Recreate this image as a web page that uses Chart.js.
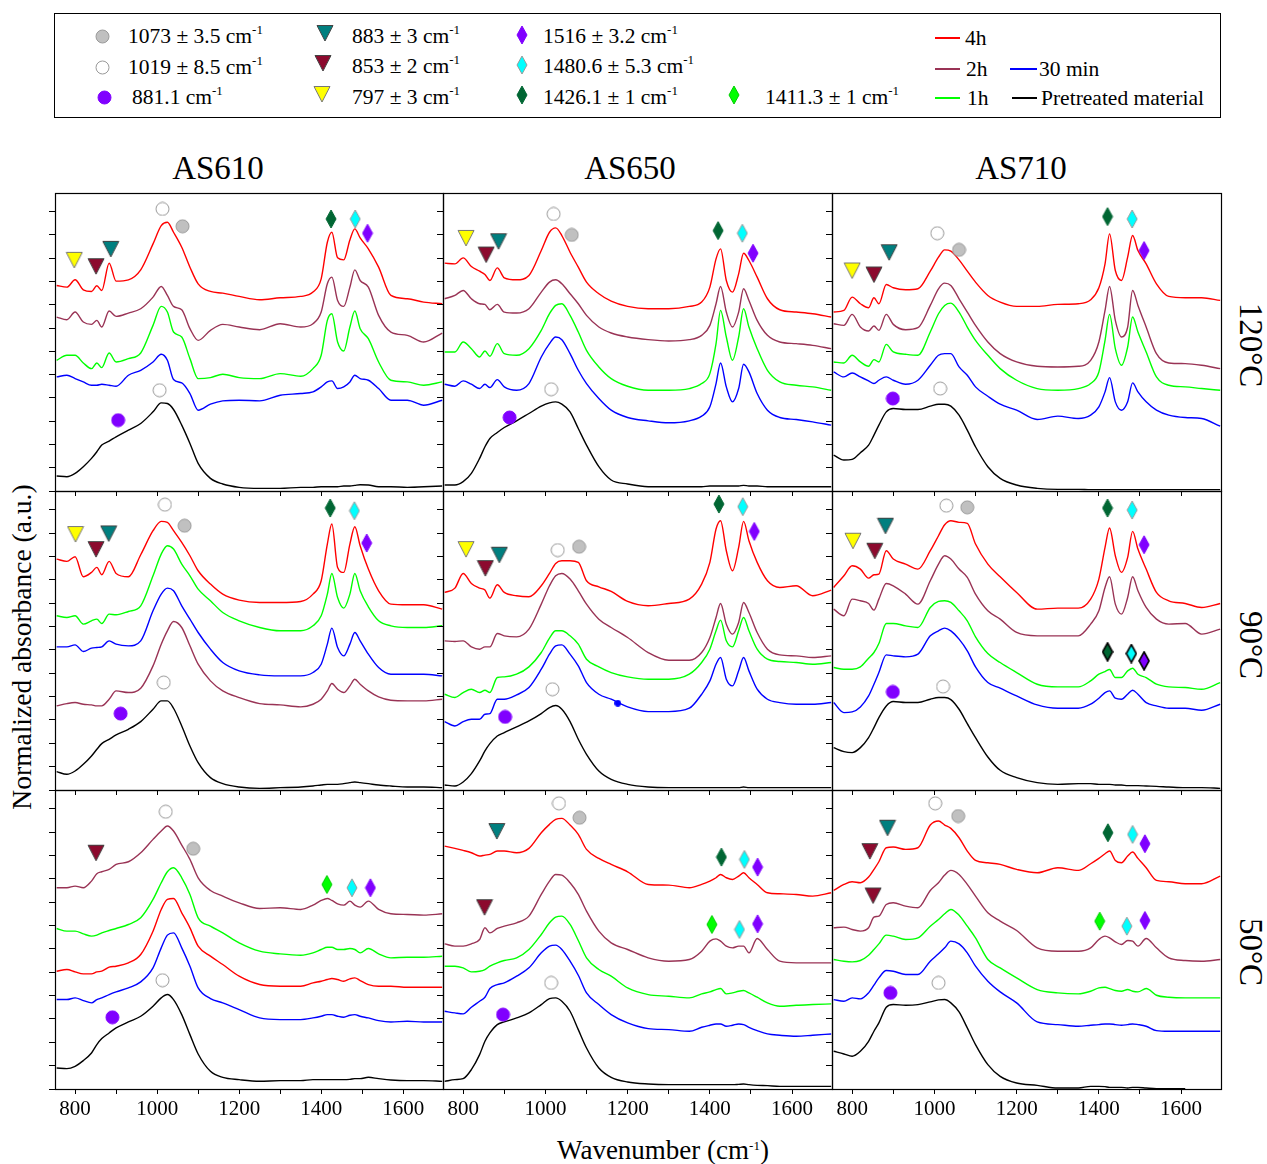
<!DOCTYPE html>
<html>
<head>
<meta charset="utf-8">
<script src="https://cdn.jsdelivr.net/npm/chart.js@4.4.1/dist/chart.umd.min.js"></script>
<style>
  body { margin: 0; background: #fff; }
  #fig { position: relative; width: 1267px; height: 1164px; overflow: hidden;
         font-family: 'Liberation Serif', 'Times New Roman', serif; color: #000; background: #fff; }
  .abs { position: absolute; white-space: nowrap; }
  .lt { font-size: 21.5px; line-height: 24px; }
  sup { font-size: 13px; line-height: 0; vertical-align: 9px; }
  .ttl { font-size: 33px; transform: translate(-50%, -50%); }
  .lline { position: absolute; height: 2px; }
  #legendBox { position: absolute; left: 54px; top: 13px; width: 1167px; height: 105px;
               border: 1px solid #000; box-sizing: border-box; }
  canvas.panel { position: absolute; }
</style>
</head>
<body>
<div id="fig">
  <div id="legendBox"></div>
  <div class="abs lt" style="left:128px;top:24px">1073 ± 3.5 cm<sup>-1</sup></div>
  <div class="abs lt" style="left:128px;top:55px">1019 ± 8.5 cm<sup>-1</sup></div>
  <div class="abs lt" style="left:132px;top:85px">881.1 cm<sup>-1</sup></div>
  <div class="abs lt" style="left:352px;top:24px">883 ± 3 cm<sup>-1</sup></div>
  <div class="abs lt" style="left:352px;top:54px">853 ± 2 cm<sup>-1</sup></div>
  <div class="abs lt" style="left:352px;top:85px">797 ± 3 cm<sup>-1</sup></div>
  <div class="abs lt" style="left:543px;top:24px">1516 ± 3.2 cm<sup>-1</sup></div>
  <div class="abs lt" style="left:543px;top:54px">1480.6 ± 5.3 cm<sup>-1</sup></div>
  <div class="abs lt" style="left:543px;top:85px">1426.1 ± 1 cm<sup>-1</sup></div>
  <div class="abs lt" style="left:765px;top:85px">1411.3 ± 1 cm<sup>-1</sup></div>

  <div class="lline" style="left:935px;top:37px;width:25px;background:#FF0000"></div>
  <div class="abs lt" style="left:965px;top:26px">4h</div>
  <div class="lline" style="left:935px;top:68px;width:25px;background:#993355"></div>
  <div class="abs lt" style="left:966px;top:57px">2h</div>
  <div class="lline" style="left:935px;top:97px;width:25px;background:#00FF00"></div>
  <div class="abs lt" style="left:967px;top:86px">1h</div>
  <div class="lline" style="left:1010px;top:68px;width:27px;background:#0000FF"></div>
  <div class="abs lt" style="left:1039px;top:57px">30 min</div>
  <div class="lline" style="left:1012px;top:97px;width:25px;background:#000000"></div>
  <div class="abs lt" style="left:1041px;top:86px">Pretreated material</div>

  <div class="abs ttl" style="left:218px;top:168px">AS610</div>
  <div class="abs ttl" style="left:630px;top:168px">AS650</div>
  <div class="abs ttl" style="left:1021px;top:168px">AS710</div>

  <div class="abs ttl" style="left:1250px;top:345px;transform:translate(-50%,-50%) rotate(90deg)">120°C</div>
  <div class="abs ttl" style="left:1250px;top:645px;transform:translate(-50%,-50%) rotate(90deg)">90°C</div>
  <div class="abs ttl" style="left:1250px;top:952px;transform:translate(-50%,-50%) rotate(90deg)">50°C</div>

  <div class="abs" style="left:22px;top:647px;font-size:27.5px;transform:translate(-50%,-50%) rotate(-90deg)">Normalized absorbance (a.u.)</div>
  <div class="abs" style="left:663px;top:1150px;font-size:27px;transform:translate(-50%,-50%)">Wavenumber (cm<sup>-1</sup>)</div>
</div>

<script>
// wavenumber grid (cm-1) shared by all spectra
const wavenumber = [755, 780, 800, 820, 840, 853, 865, 883, 900, 930, 960, 990, 1010, 1025, 1040,
  1060, 1080, 1100, 1130, 1160, 1200, 1250, 1300, 1350, 1380, 1400, 1415, 1426, 1440, 1455,
  1470, 1482, 1495, 1515, 1540, 1570, 1610, 1650, 1695];

const xTickValues = [800, 900, 1000, 1100, 1200, 1300, 1400, 1500, 1600];
const yTickValues = [0, 70, 140, 210, 280, 350, 420, 490, 560, 630, 700, 770, 840];

// ---- AS610, 120°C ----
const AS610_120_4h = [618,613,635,605,600,617,603,685,631,635,665,743,798,808,778,733,673,623,600,595,585,575,581,585,598,638,748,778,701,695,755,788,761,728,673,588,578,568,563];
const AS610_120_2h = [523,515,538,508,501,513,493,541,525,535,548,583,615,588,555,545,488,453,483,501,493,485,503,493,503,538,623,643,573,555,613,665,633,613,528,478,468,448,475];
const AS610_120_1h = [393,408,408,385,368,385,371,415,388,398,415,498,555,538,478,463,398,338,341,351,341,338,353,345,368,408,513,533,448,421,493,541,488,458,388,333,328,318,328];
const AS610_120_30m = [343,348,338,328,318,318,321,318,315,348,363,388,411,393,335,325,293,243,261,271,273,271,288,293,298,313,328,331,308,313,328,348,338,333,308,273,273,258,273];
const AS610_120_pre = [45,43,53,73,98,118,138,150,163,183,203,238,265,263,245,198,143,83,38,21,11,8,8,11,11,13,13,13,13,15,15,17,19,18,13,13,11,13,15];

// ---- AS650, 120°C ----
const AS650_120_4h = [685,683,701,675,661,651,633,671,641,635,648,723,778,791,768,718,673,628,593,571,555,548,548,555,568,613,698,728,633,598,653,715,693,643,578,545,538,533,523];
const AS650_120_2h = [578,588,603,578,563,561,545,561,538,535,548,598,628,635,623,593,563,528,493,475,463,455,451,455,468,498,563,615,538,493,538,608,573,513,468,448,443,438,428];
const AS650_120_1h = [418,418,448,428,403,421,405,443,413,408,428,483,533,558,563,528,478,423,373,338,315,303,303,308,323,353,443,543,463,393,463,548,493,428,363,328,318,313,303];
const AS650_120_30m = [321,315,331,321,308,321,311,335,313,303,323,403,443,463,455,413,363,323,278,243,221,211,205,211,225,253,323,385,313,268,308,381,358,293,243,221,215,208,198];
const AS650_120_pre = [18,18,28,53,98,133,158,176,191,211,233,255,265,268,261,238,188,138,73,33,21,13,13,13,13,15,15,15,15,15,15,17,15,15,13,13,13,13,13];

// ---- AS710, 120°C ----
const AS710_120_4h = [538,543,583,563,551,581,563,621,611,605,608,661,703,725,721,695,661,628,588,568,555,555,561,563,575,611,683,773,663,633,703,768,723,683,623,585,581,581,573];
const AS710_120_2h = [503,498,531,493,481,496,483,531,501,485,491,558,608,625,618,578,538,498,448,413,388,375,373,375,393,448,543,615,513,463,493,603,558,493,413,385,383,378,368];
const AS710_120_1h = [388,385,408,388,375,395,388,441,418,411,408,478,533,558,565,538,493,453,408,368,333,308,303,308,323,358,453,531,428,378,433,523,478,418,343,318,313,308,303];
const AS710_120_30m = [358,343,355,343,331,323,333,343,333,321,333,378,408,413,413,373,348,313,285,261,243,215,225,218,228,253,298,341,268,243,268,325,298,268,243,228,221,218,195];
const AS710_120_pre = [108,93,95,115,138,168,198,238,248,245,245,255,261,261,255,228,183,133,73,38,18,8,5,5,4,4,4,4,4,4,4,4,4,4,4,4,4,4,4];

// ---- AS610, 90°C ----
const AS610_90_4h = [692,685,699,639,652,667,645,685,649,639,705,777,805,802,777,742,702,657,617,587,569,562,562,565,587,627,737,797,667,652,737,789,732,662,597,557,555,555,542];
const AS610_90_1h = [522,517,522,497,507,512,499,527,525,535,552,642,707,732,722,677,642,602,567,532,507,487,477,477,492,522,587,649,577,545,587,649,597,549,507,492,487,487,492];
const AS610_90_30m = [429,429,435,415,425,427,429,447,437,432,447,537,587,605,597,552,512,472,422,382,357,345,342,342,352,377,437,485,427,402,437,472,447,407,367,347,347,347,342];
const AS610_90_2h = [252,259,262,257,255,252,252,272,297,292,305,372,437,477,505,487,432,377,327,297,277,259,255,249,257,272,297,319,302,292,312,332,317,297,279,269,267,267,272];
const AS610_90_pre = [55,47,57,77,102,122,139,152,165,182,205,242,267,267,245,192,132,82,37,19,9,5,7,9,12,15,17,17,17,19,22,24,22,19,15,12,9,9,7];

// ---- AS650, 90°C ----
const AS650_90_4h = [592,605,649,619,605,599,575,615,592,582,579,612,649,679,687,687,682,627,609,595,565,552,559,572,617,682,782,807,717,657,727,805,747,682,627,607,612,582,599];
const AS650_90_2h = [447,445,447,429,422,429,429,469,462,459,482,557,612,642,649,632,597,557,512,487,457,412,389,389,412,457,517,559,497,467,502,562,532,472,422,405,402,397,402];
const AS650_90_1h = [287,277,292,302,292,299,292,337,339,347,369,412,455,477,477,462,437,392,369,352,339,332,332,347,382,422,477,509,447,429,477,517,477,422,392,385,382,377,382];
const AS650_90_30m = [205,192,205,212,212,227,229,272,272,285,307,362,407,432,435,407,372,322,287,272,249,235,235,245,287,327,377,397,332,312,357,397,357,302,272,262,257,257,262];
const AS650_90_pre = [15,12,24,49,87,117,139,162,172,189,207,229,247,253,242,205,152,107,57,32,17,9,7,7,7,7,7,7,7,7,7,9,7,7,7,7,7,7,7];

// ---- AS710, 90°C ----
const AS710_90_4h = [607,642,672,662,635,645,647,717,692,677,662,717,762,795,807,802,799,737,677,639,592,542,545,545,572,632,727,785,702,652,697,775,722,662,592,567,559,547,559];
const AS710_90_2h = [542,522,572,567,559,539,572,619,612,587,557,627,677,702,692,662,637,587,537,512,472,462,462,462,497,537,607,639,557,527,577,639,597,547,512,497,499,467,482];
const AS710_90_1h = [367,362,362,369,395,412,439,499,499,492,487,547,565,567,562,537,507,459,409,382,352,317,309,309,327,347,355,361,337,337,357,365,347,337,317,309,307,302,322];
const AS710_90_30m = [262,232,234,249,282,317,352,405,402,399,407,462,477,485,477,452,417,369,322,305,282,255,245,245,257,275,292,297,275,272,287,299,287,262,252,245,245,239,257];
const AS710_90_pre = [127,115,112,127,157,187,217,252,265,262,262,272,277,277,271,242,199,157,99,59,37,22,17,19,19,17,17,17,15,15,13,13,13,12,11,9,7,7,5];

// ---- AS610, 50°C ----
const AS610_50_2h = [603,603,608,603,623,645,651,658,673,681,708,748,773,788,773,731,688,633,595,578,558,541,543,538,551,565,571,565,555,551,563,551,545,563,538,525,523,521,525];
const AS610_50_1h = [481,473,473,465,458,461,468,475,481,493,513,568,618,651,663,633,583,513,488,468,438,413,405,401,408,418,425,425,418,418,421,418,408,421,405,393,395,395,398];
const AS610_50_4h = [353,358,351,345,345,351,353,365,368,378,403,473,538,568,571,528,483,428,398,373,338,313,308,308,318,323,328,331,328,323,330,333,325,313,308,308,305,305,305];
const AS610_50_30m = [268,268,273,265,258,268,273,283,291,303,321,363,423,461,468,423,368,303,271,258,238,213,208,208,213,218,223,223,218,215,221,223,218,213,205,201,203,201,201];
const AS610_50_pre = [63,61,68,85,108,133,151,168,183,201,218,248,273,283,268,223,163,105,53,35,28,23,25,25,28,28,28,28,28,28,29,31,31,35,31,27,25,25,23];

// ---- AS650, 50°C ----
const AS650_50_4h = [728,721,715,708,698,701,703,713,713,708,721,768,793,808,811,791,763,718,691,673,651,613,611,603,613,623,633,643,633,628,638,648,633,613,588,585,583,578,588];
const AS650_50_2h = [435,428,428,435,448,483,468,481,488,498,518,583,623,643,641,618,583,533,473,438,418,393,383,388,413,443,450,443,428,423,428,428,408,451,418,383,378,378,378];
const AS650_50_1h = [368,368,363,351,353,358,368,378,385,393,418,463,498,515,518,493,445,393,358,338,303,283,278,273,285,291,298,301,285,288,293,295,288,275,258,248,251,253,255];
const AS650_50_30m = [233,228,225,245,263,275,301,313,318,338,363,408,428,431,418,383,341,288,253,223,198,181,178,173,185,191,195,195,188,191,195,193,185,175,165,161,158,161,165];
const AS650_50_pre = [23,28,31,58,103,143,168,193,201,213,228,253,271,273,263,233,178,123,63,35,21,15,13,13,13,13,13,13,13,13,14,15,13,11,10,8,8,8,8];

// ---- AS710, 50°C ----
const AS710_50_4h = [595,613,621,618,635,658,681,723,725,718,723,791,803,791,781,753,713,685,678,673,658,648,663,655,675,691,705,713,685,678,698,710,691,663,625,621,615,615,638];
const AS710_50_2h = [483,485,478,473,483,515,518,553,558,548,543,595,618,641,655,643,613,578,528,503,475,423,413,413,423,448,458,453,441,433,445,443,428,451,423,393,385,383,388];
const AS710_50_1h = [388,383,381,385,401,418,435,461,458,448,453,488,508,525,538,521,488,453,388,363,333,298,288,285,293,303,305,301,295,293,298,293,291,301,281,275,273,273,273];
const AS710_50_30m = [268,263,273,270,288,311,333,355,353,343,343,383,405,423,443,435,408,368,323,291,258,201,193,188,191,193,195,195,193,191,193,195,193,188,175,173,173,173,173];
const AS710_50_pre = [113,105,98,113,143,173,198,245,253,251,253,261,267,268,258,231,183,133,73,38,18,11,3,3,8,8,7,5,5,5,3,5,5,3,1,1,1,null,null];

// ---- band markers: [kind, wavenumber, y] ----
const marks_AS610_120 = [['c1019',1013,848],['c1073',1062,796],['t797',798,695],['t853',851,676],['t883',887,728],['d1426',1424,818],['d1480',1483,818],['d1516',1513,775],['c1019',1006,303],['c881',905,213]];
const marks_AS650_120 = [['t797',807,761],['t853',856,711],['t883',886,751],['c1019',1020,833],['c1073',1064,770],['d1426',1420,783],['d1480',1479,775],['d1516',1505,715],['c1019',1014,306],['c881',913,221]];
const marks_AS710_120 = [['t797',800,663],['t853',853,651],['t883',890,718],['c1019',1007,775],['c1073',1060,725],['d1426',1421,825],['d1480',1481,818],['d1516',1510,723],['c1019',1014,308],['c881',899,278]];
const marks_AS610_90 = [['c1019',1019,855],['c1073',1067,792],['t797',801,767],['t853',851,722],['t883',882,769],['d1426',1422,845],['d1480',1481,837],['d1516',1511,740],['c1019',1016,322],['c881',911,229]];
const marks_AS650_90 = [['t797',807,722],['t853',854,665],['t883',888,705],['c1019',1030,719],['c1073',1082,729],['d1426',1422,857],['d1480',1480,849],['d1516',1508,775],['c1019',1017,302],['c881',902,219],['dot',1176,260]];
const marks_AS710_90 = [['t797',802,747],['t853',855,717],['t883',881,792],['c1019',1029,852],['c1073',1080,847],['d1426',1421,845],['d1480',1481,839],['d1516',1510,735],['d1426o',1421,414],['d1480o',1479,409],['d1516o',1510,387],['c1019',1021,310],['c881',899,294]];
const marks_AS610_50 = [['t853',851,708],['c1019',1021,831],['c1073',1088,720],['d1411',1414,613],['d1480',1475,603],['d1516',1520,603],['c1019',1013,326],['c881',891,215]];
const marks_AS650_50 = [['t883',882,773],['c1019',1033,856],['c1073',1083,813],['d1426',1428,695],['d1480',1484,688],['d1516',1516,665],['t853',852,545],['d1411',1405,493],['d1480',1472,478],['d1516',1516,495],['c1019',1014,318],['c881',897,223]];
const marks_AS710_50 = [['c1019',1002,856],['c1073',1058,818],['t883',886,783],['t853',843,713],['t853',851,580],['d1426',1422,768],['d1480',1482,763],['d1516',1512,735],['d1411',1402,503],['d1480',1468,488],['d1516',1512,505],['c1019',1010,318],['c881',893,288]];

const lineColors = { '4h': '#FF0000', '2h': '#993355', '1h': '#00FF00', '30 min': '#0000FF', 'Pretreated material': '#000000' };

const panels = [
  { col: 0, row: 0, marks: marks_AS610_120, lines: [['4h', AS610_120_4h], ['2h', AS610_120_2h], ['1h', AS610_120_1h], ['30 min', AS610_120_30m], ['Pretreated material', AS610_120_pre]] },
  { col: 1, row: 0, marks: marks_AS650_120, lines: [['4h', AS650_120_4h], ['2h', AS650_120_2h], ['1h', AS650_120_1h], ['30 min', AS650_120_30m], ['Pretreated material', AS650_120_pre]] },
  { col: 2, row: 0, marks: marks_AS710_120, lines: [['4h', AS710_120_4h], ['2h', AS710_120_2h], ['1h', AS710_120_1h], ['30 min', AS710_120_30m], ['Pretreated material', AS710_120_pre]] },
  { col: 0, row: 1, marks: marks_AS610_90, lines: [['4h', AS610_90_4h], ['2h', AS610_90_2h], ['1h', AS610_90_1h], ['30 min', AS610_90_30m], ['Pretreated material', AS610_90_pre]] },
  { col: 1, row: 1, marks: marks_AS650_90, lines: [['4h', AS650_90_4h], ['2h', AS650_90_2h], ['1h', AS650_90_1h], ['30 min', AS650_90_30m], ['Pretreated material', AS650_90_pre]] },
  { col: 2, row: 1, marks: marks_AS710_90, lines: [['4h', AS710_90_4h], ['2h', AS710_90_2h], ['1h', AS710_90_1h], ['30 min', AS710_90_30m], ['Pretreated material', AS710_90_pre]] },
  { col: 0, row: 2, marks: marks_AS610_50, lines: [['4h', AS610_50_4h], ['2h', AS610_50_2h], ['1h', AS610_50_1h], ['30 min', AS610_50_30m], ['Pretreated material', AS610_50_pre]] },
  { col: 1, row: 2, marks: marks_AS650_50, lines: [['4h', AS650_50_4h], ['2h', AS650_50_2h], ['1h', AS650_50_1h], ['30 min', AS650_50_30m], ['Pretreated material', AS650_50_pre]] },
  { col: 2, row: 2, marks: marks_AS710_50, lines: [['4h', AS710_50_4h], ['2h', AS710_50_2h], ['1h', AS710_50_1h], ['30 min', AS710_50_30m], ['Pretreated material', AS710_50_pre]] },
];

// marker glyph styles
const markerStyle = {
  c1073: { shape: 'circle', fill: '#C0C0C0', stroke: '#999999' },
  c1019: { shape: 'circle', fill: '#FFFFFF', stroke: '#999999' },
  c881:  { shape: 'circle', fill: '#8000FF', stroke: '#8000FF' },
  t883:  { shape: 'tri', fill: '#007F7F', stroke: '#444444' },
  t853:  { shape: 'tri', fill: '#8C0A2E', stroke: '#444444' },
  t797:  { shape: 'tri', fill: '#FFFF00', stroke: '#777777' },
  d1516: { shape: 'dia', fill: '#8000FF', stroke: '#8000FF' },
  d1480: { shape: 'dia', fill: '#00FFFF', stroke: '#999999' },
  d1426: { shape: 'dia', fill: '#006633', stroke: '#006633' },
  d1411: { shape: 'dia', fill: '#00FF00', stroke: '#00CC00' },
  d1516o: { shape: 'dia', fill: '#8000FF', stroke: '#000000', lw: 1.6 },
  d1480o: { shape: 'dia', fill: '#00FFFF', stroke: '#000000', lw: 1.6 },
  d1426o: { shape: 'dia', fill: '#006633', stroke: '#000000', lw: 1.6 },
  dot:   { shape: 'dot', fill: '#0000FF', stroke: '#0000FF' },
};

function makeMarker(kind) {
  const st = markerStyle[kind];
  const c = document.createElement('canvas');
  const size = { circle: [15, 15], tri: [18, 18], dia: [12, 20], dot: [7, 7] }[st.shape];
  c.width = size[0]; c.height = size[1];
  const g = c.getContext('2d');
  g.fillStyle = st.fill; g.strokeStyle = st.stroke; g.lineWidth = st.lw || 1;
  g.beginPath();
  if (st.shape === 'circle') g.arc(7.5, 7.5, 6.5, 0, Math.PI * 2);
  else if (st.shape === 'dot') g.arc(3.5, 3.5, 3, 0, Math.PI * 2);
  else if (st.shape === 'tri') { g.moveTo(1, 1.5); g.lineTo(17, 1.5); g.lineTo(9, 17); g.closePath(); }
  else { g.moveTo(6, 1); g.lineTo(11, 10); g.lineTo(6, 19); g.lineTo(1, 10); g.closePath(); }
  g.fill(); g.stroke();
  return c;
}

// legend glyphs
const fig = document.getElementById('fig');
[['c1073', 102, 36], ['c1019', 102, 67], ['c881', 104, 97],
 ['t883', 325, 33], ['t853', 323, 63], ['t797', 322, 94],
 ['d1516', 522, 35], ['d1480', 522, 65], ['d1426', 522, 95], ['d1411', 734, 95]].forEach(([k, x, y]) => {
  const c = makeMarker(k);
  c.style.position = 'absolute';
  c.style.left = (x - c.width / 2) + 'px';
  c.style.top = (y - c.height / 2) + 'px';
  fig.appendChild(c);
});

// panel grid (pixel edges of each plot box)
const colEdges = [55, 443, 832, 1221];
const rowEdges = [193, 491, 790, 1089];
const PL = 10, PR = 4, PT = 6;

const boxPlugin = {
  id: 'box',
  afterDraw(chart) {
    const { ctx, chartArea: a } = chart;
    ctx.save();
    ctx.strokeStyle = '#000';
    ctx.lineWidth = 1.2;
    ctx.strokeRect(Math.round(a.left) + 0.5, Math.round(a.top) + 0.5, Math.round(a.right - a.left), Math.round(a.bottom - a.top));
    ctx.restore();
  }
};

panels.forEach(p => {
  const isBottom = p.row === 2;
  const PB = isBottom ? 42 : 8;
  const w = colEdges[p.col + 1] - colEdges[p.col];
  const h = rowEdges[p.row + 1] - rowEdges[p.row];
  const cv = document.createElement('canvas');
  cv.className = 'panel';
  cv.width = w + PL + PR; cv.height = h + PT + PB;
  cv.style.left = (colEdges[p.col] - PL) + 'px';
  cv.style.top = (rowEdges[p.row] - PT) + 'px';
  cv.style.width = cv.width + 'px'; cv.style.height = cv.height + 'px';
  fig.appendChild(cv);

  const datasets = [];
  p.marks.forEach(([kind, x, y]) => {
    datasets.push({
      data: [{ x: x, y: y }],
      showLine: false,
      pointStyle: makeMarker(kind),
      pointRadius: 8,
      clip: false,
    });
  });
  p.lines.forEach(([name, vals]) => {
    datasets.push({
      label: name,
      data: wavenumber.map((wn, i) => ({ x: wn, y: vals[i] })),
      borderColor: lineColors[name],
      borderWidth: 1.4,
      pointRadius: 0,
      fill: false,
      cubicInterpolationMode: 'monotone',
    });
  });

  new Chart(cv, {
    type: 'line',
    data: { datasets: datasets },
    options: {
      responsive: false,
      animation: false,
      events: [],
      layout: { autoPadding: false, padding: { left: 0, right: PR, top: PT, bottom: 0 } },
      plugins: { legend: { display: false }, tooltip: { enabled: false } },
      scales: {
        x: {
          type: 'linear', min: 751, max: 1697,
          afterBuildTicks: s => { s.ticks = xTickValues.map(v => ({ value: v })); },
          afterFit: s => { s.height = PB; },
          border: { display: false },
          grid: { drawOnChartArea: false, drawTicks: true, tickLength: 5, color: '#000', lineWidth: 1 },
          ticks: {
            display: isBottom, autoSkip: false, maxRotation: 0, padding: 3, color: '#000',
            font: { family: 'Liberation Serif', size: 21 },
            callback: v => (v % 200 === 0 ? String(v) : '')
          }
        },
        y: {
          type: 'linear', min: 0, max: 896,
          afterBuildTicks: s => { s.ticks = yTickValues.map(v => ({ value: v })); },
          afterFit: s => { s.width = PL; },
          border: { display: false },
          grid: { drawOnChartArea: false, drawTicks: true, tickLength: 6, color: '#000', lineWidth: 1 },
          ticks: { display: false }
        }
      }
    },
    plugins: [boxPlugin]
  });
});
</script>
</body>
</html>
